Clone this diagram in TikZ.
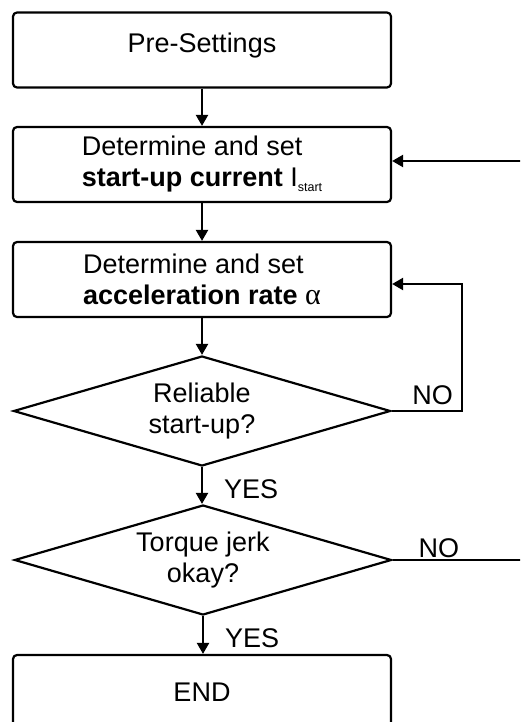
\documentclass[tikz,border=0pt]{standalone}
\usepackage{fontspec}
\setmainfont{Liberation Sans}
\newfontfamily\greekserif{Liberation Serif}
\usetikzlibrary{shapes.geometric,arrows.meta,calc}
\begin{document}
\begin{tikzpicture}[x=1pt,y=-1pt,
  every node/.style={font=\fontsize{27}{31}\selectfont},
  procbox/.style={draw, line width=2.2pt, rounded corners=4pt, minimum width=378pt, minimum height=75pt, inner sep=0pt, align=left},
  decision/.style={draw, diamond, line width=2.2pt, aspect=3.43, minimum width=377pt, minimum height=110pt, inner sep=0pt, align=center},
  arr/.style={line width=2.2pt, -{Triangle[length=11pt,width=12pt]}},
  conn/.style={line width=2.2pt},
  lbl/.style={inner sep=0pt}
]
\clip (0,0) rectangle (520,722);
\useasboundingbox (0,0) rectangle (520,722);

\node[procbox, text height=19.7pt, text depth=14.3pt] (pre) at (202,50) {Pre-Settings};
\node[procbox] (cur) at (202,164.5) {Determine and set\\\textbf{start-up current} I\raisebox{-5pt}{\fontsize{12.5}{12.5}\selectfont start}};
\node[procbox] (acc) at (202,279.5) {Determine and set\\\textbf{acceleration rate} {\greekserif\fontsize{30}{31}\selectfont α}};
\node[decision] (rel) at (202,411) {Reliable\\start-up?};
\node[decision] (tor) at (203,560) {Torque jerk\\okay?};
\node[procbox] (fin) at (202,692.5) {END};

\coordinate (n1) at (462,284);
\coordinate (fb) at (521,161);
\coordinate (n2) at (521,560);

\draw[arr] (pre.south) -- (pre.south |- cur.north);
\draw[arr] (cur.south) -- (cur.south |- acc.north);
\draw[arr] (acc.south) -- (acc.south |- rel.north);
\draw[arr] (rel.south) -- node[lbl, anchor=west, xshift=21pt, yshift=-4pt] {YES} (rel.south |- tor.north);
\draw[arr] (tor.south) -- node[lbl, anchor=west, xshift=21pt, yshift=-2.7pt] {YES} (tor.south |- fin.north);
\draw[arr] (rel.east) -| node[lbl, pos=0.5, anchor=base east, xshift=-8pt, yshift=7pt] {NO} (n1) -- (n1 -| acc.east);
\draw[conn] (tor.east) -- node[lbl, pos=0, anchor=base west, xshift=25pt, yshift=3pt] {NO} (n2);
\draw[arr] (fb) -- (fb -| cur.east);
\end{tikzpicture}
\end{document}
